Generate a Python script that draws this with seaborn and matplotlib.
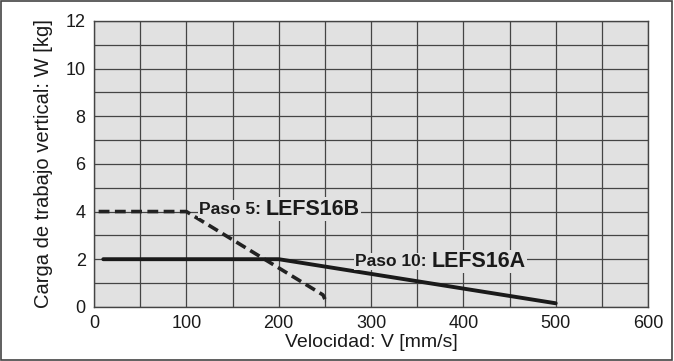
import matplotlib
matplotlib.use("Agg")
import matplotlib.pyplot as plt
import seaborn as sns
import pandas as pd
from matplotlib.patches import Rectangle

# Data
paso5_v = [5, 100, 248, 250, 250]
paso5_w = [4, 4, 0.5, 0.45, 0.2]
paso10_v = [10, 200, 500]
paso10_w = [2, 2, 0.15]
x_ticks = [0, 100, 200, 300, 400, 500, 600]
y_ticks = [0, 2, 4, 6, 8, 10, 12]

sns.set_theme(style="white")
plt.rcParams['font.family'] = ['Liberation Sans', 'DejaVu Sans']

bg = "#e1e1e1"
fig = plt.figure(figsize=(6.74, 3.61), dpi=100)
ax = fig.add_axes([0.1395, 0.150, 0.822, 0.792])
ax.set_facecolor(bg)

df5 = pd.DataFrame({"v": paso5_v, "w": paso5_w})
df10 = pd.DataFrame({"v": paso10_v, "w": paso10_w})
sns.lineplot(data=df5, x="v", y="w", ax=ax, color="#222222", lw=2.6,
             linestyle=(0, (3, 1.5)), sort=False, zorder=4)
sns.lineplot(data=df10, x="v", y="w", ax=ax, color="#1a1a1a", lw=2.8,
             sort=False, zorder=4)

ax.set_xlim(0, 600)
ax.set_ylim(0, 12)
ax.set_xticks(x_ticks)
ax.set_yticks(y_ticks)
ax.set_xticks(range(50, 600, 100), minor=True)
ax.set_yticks(range(1, 12, 2), minor=True)
ax.grid(True, which="both", color="#444444", lw=0.9, zorder=1)
ax.set_axisbelow(True)
for s in ax.spines.values():
    s.set_color("#444444")
    s.set_linewidth(1.0)
ax.tick_params(axis="both", which="both", length=0, labelsize=13, colors="#1a1a1a", pad=6)

ax.set_xlabel("Velocidad: V [mm/s]", fontsize=14, color="#1a1a1a", labelpad=1)
ax.set_ylabel("Carga de trabajo vertical: W [kg]", fontsize=14.5, color="#1a1a1a", labelpad=9)

bbox = dict(facecolor=bg, edgecolor="none", pad=1)
t1 = ax.text(114, 4.1, "Paso 5: ", fontsize=12.5, fontweight="bold", color="#1a1a1a",
             ha="left", va="center", bbox=bbox, zorder=5)
ax.annotate("LEFS16B", xycoords=t1, xy=(1, 0.5), va="center", ha="left",
            fontsize=15.5, fontweight="bold", color="#1a1a1a", bbox=bbox, zorder=5)
t2 = ax.text(283, 1.9, "Paso 10: ", fontsize=12.5, fontweight="bold", color="#1a1a1a",
             ha="left", va="center", bbox=bbox, zorder=5)
ax.annotate("LEFS16A", xycoords=t2, xy=(1, 0.5), va="center", ha="left",
            fontsize=15.5, fontweight="bold", color="#1a1a1a", bbox=bbox, zorder=5)

fig.patches.append(Rectangle((0.002, 0.003), 0.995, 0.993, transform=fig.transFigure,
                             fill=False, edgecolor="#444444", lw=1.2))

fig.savefig("out.png", dpi=100)
